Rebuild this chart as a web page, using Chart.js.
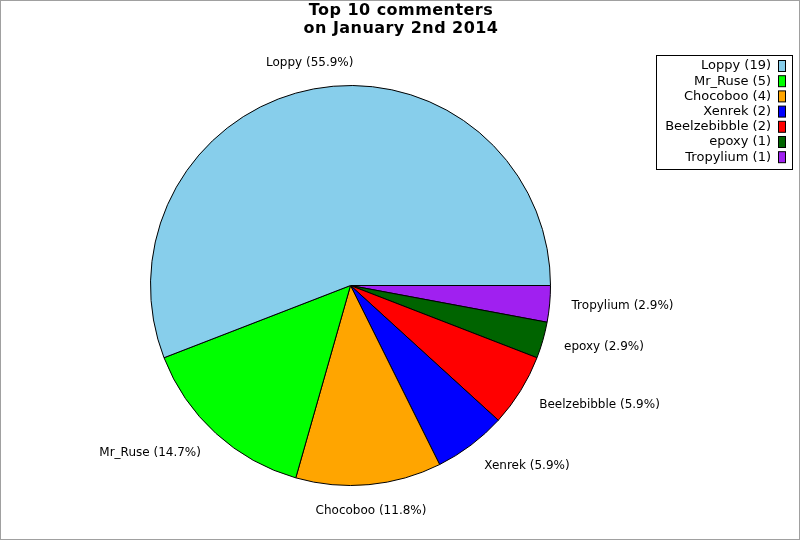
<!DOCTYPE html>
<html>
<head>
<meta charset="utf-8">
<script src="https://cdn.jsdelivr.net/npm/chart.js@4/dist/chart.umd.min.js"></script>
<style>
  body { margin: 0; background: #fff; }
  canvas { display: block; }
</style>
</head>
<body>
<canvas id="pastel" width="800" height="540"></canvas>
<script>
// datos del grafico (orden de la leyenda)
const nombres = ['Loppy', 'Mr_Ruse', 'Chocoboo', 'Xenrek', 'Beelzebibble', 'epoxy', 'Tropylium'];
const comentarios = [19, 5, 4, 2, 2, 1, 1];
const colores = ['#87CEEB', '#00FF00', '#FFA500', '#0000FF', '#FF0000', '#006400', '#A020F0'];
const titulo = ['Top 10 commenters', 'on January 2nd 2014'];

const total = comentarios.reduce((a, b) => a + b, 0);
const fuente = '"DejaVu Sans", sans-serif';

// el pastel va en sentido contrario, asi que invertimos el orden
const nombresInv = nombres.slice().reverse();
const valoresInv = comentarios.slice().reverse();
const coloresInv = colores.slice().reverse();

const extras = {
    id: 'extras',
    afterDraw(chart) {
        const c = chart.ctx;
        c.save();

        // marco
        c.strokeStyle = '#a0a0a0';
        c.lineWidth = 1;
        c.strokeRect(0.5, 0.5, 799, 539);

        // titulo
        c.fillStyle = '#000';
        c.font = 'bold 16px ' + fuente;
        c.letterSpacing = '0.45px';
        c.textAlign = 'center';
        c.textBaseline = 'middle';
        c.fillText(titulo[0], 401, 11);
        c.fillText(titulo[1], 401, 29);
        c.letterSpacing = '0px';

        // etiquetas de cada porcion
        c.font = '12px ' + fuente;
        const meta = chart.getDatasetMeta(0);
        meta.data.forEach((arco, i) => {
            const medio = (arco.startAngle + arco.endAngle) / 2;
            const cx = Math.cos(medio), cy = Math.sin(medio);
            const x = arco.x + cx * arco.outerRadius * 1.11;
            const y = arco.y + cy * arco.outerRadius * 1.13;
            c.textAlign = cx > 0.3 ? 'left' : (cx < -0.3 ? 'right' : 'center');
            const pct = (valoresInv[i] / total * 100).toFixed(1);
            c.fillText(nombresInv[i] + ' (' + pct + '%)', x, y);
        });

        // leyenda
        c.font = '13px ' + fuente;
        c.fillStyle = '#fff';
        c.fillRect(656.5, 55.5, 136, 114);
        c.strokeStyle = '#000';
        c.strokeRect(656.5, 55.5, 136, 114);
        c.textAlign = 'right';
        nombres.forEach((n, i) => {
            const y = 66 + i * 15.2;
            c.fillStyle = '#000';
            c.fillText(n + ' (' + comentarios[i] + ')', 771, y);
            c.fillStyle = colores[i];
            c.fillRect(778.5, y - 5.5, 7, 11);
            c.strokeStyle = '#000';
            c.strokeRect(778.5, y - 5.5, 7, 11);
        });
        c.restore();
    }
};

new Chart(document.getElementById('pastel'), {
    type: 'pie',
    data: {
        labels: nombresInv,
        datasets: [{
            data: valoresInv,
            backgroundColor: coloresInv,
            borderColor: '#000',
            borderWidth: 1
        }]
    },
    options: {
        responsive: false,
        animation: false,
        rotation: 90, // empieza a las 3 en punto
        layout: { padding: { left: 150, right: 249, top: 85, bottom: 54 } },
        plugins: {
            legend: { display: false },
            title: { display: false },
            tooltip: { enabled: false }
        }
    },
    plugins: [extras]
});
</script>
</body>
</html>
